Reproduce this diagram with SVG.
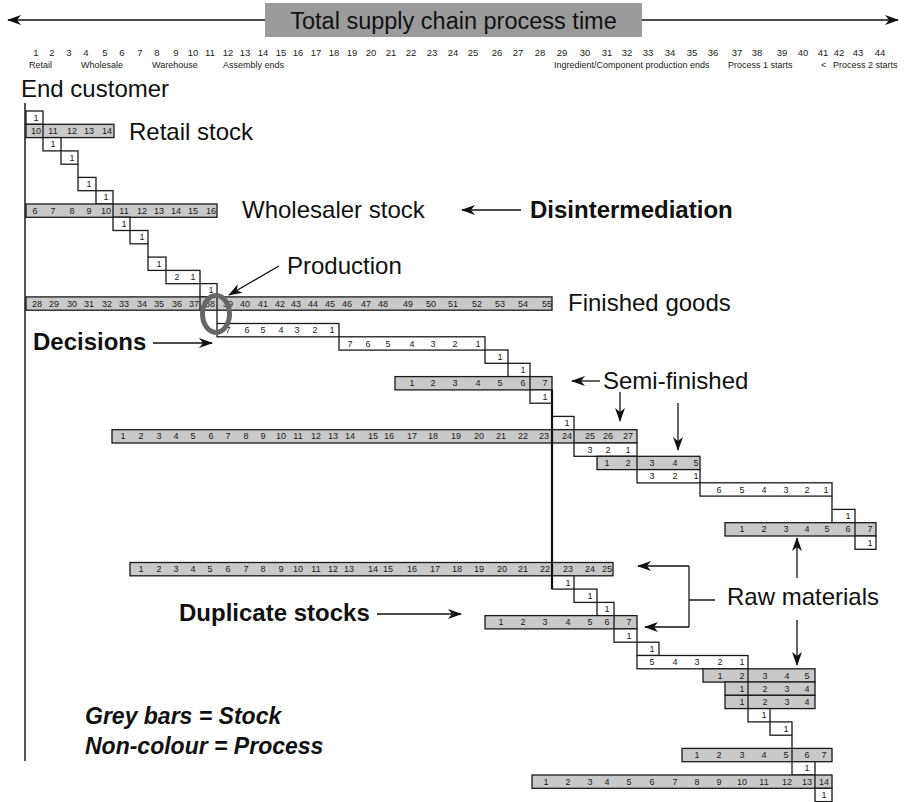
<svg xmlns="http://www.w3.org/2000/svg" width="905" height="802" viewBox="0 0 905 802">
<defs>
<marker id="ah" markerUnits="userSpaceOnUse" markerWidth="14" markerHeight="10" refX="13" refY="5" orient="auto">
<path d="M0,0 L14,5 L0,10 L4,5 z" fill="#111"/>
</marker>
<style>
.p{fill:#fff;stroke:#1a1a1a;stroke-width:1.3}
.s{fill:#c9c9c9;stroke:#1a1a1a;stroke-width:1.3}
.d{stroke:#1a1a1a;stroke-width:1.3}
.n{font-family:'Liberation Sans',Arial,sans-serif;font-size:9px;text-anchor:middle;fill:#1a1a1a}
.sc{font-family:'Liberation Sans',Arial,sans-serif;font-size:9.5px;text-anchor:middle;fill:#222}
.sl{font-family:'Liberation Sans',Arial,sans-serif;font-size:9px;fill:#222}
.L{font-family:'Liberation Sans',Arial,sans-serif;font-size:24px;fill:#111}
.B{font-family:'Liberation Sans',Arial,sans-serif;font-size:24px;font-weight:bold;fill:#111}
.BI{font-family:'Liberation Sans',Arial,sans-serif;font-size:23px;font-weight:bold;font-style:italic;fill:#111}
.a{stroke:#111;stroke-width:1.3;fill:none;marker-end:url(#ah)}
.c{stroke:#1a1a1a;stroke-width:1.3;fill:none}
</style>
</defs>
<rect width="905" height="802" fill="#fff"/>

<g id="title">
<rect x="265" y="3" width="377" height="34" fill="#9b9b9b"/>
<text class="L" x="453.5" y="28.5" text-anchor="middle" style="font-size:23.5px">Total supply chain process time</text>
</g>

<g id="scale">
<text class="sc" y="56"><tspan x="36">1</tspan><tspan x="52">2</tspan><tspan x="69">3</tspan><tspan x="86">4</tspan><tspan x="105">5</tspan><tspan x="122">6</tspan><tspan x="140">7</tspan><tspan x="157">8</tspan><tspan x="176">9</tspan><tspan x="193">10</tspan><tspan x="210">11</tspan><tspan x="228">12</tspan><tspan x="245">13</tspan><tspan x="263">14</tspan><tspan x="281">15</tspan><tspan x="298">16</tspan><tspan x="316">17</tspan><tspan x="334">18</tspan><tspan x="352">19</tspan><tspan x="371">20</tspan><tspan x="391">21</tspan><tspan x="411">22</tspan><tspan x="432">23</tspan><tspan x="453">24</tspan><tspan x="473">25</tspan><tspan x="497">26</tspan><tspan x="518">27</tspan><tspan x="540">28</tspan><tspan x="562">29</tspan><tspan x="585">30</tspan><tspan x="607">31</tspan><tspan x="627">32</tspan><tspan x="648">33</tspan><tspan x="670">34</tspan><tspan x="692">35</tspan><tspan x="713">36</tspan><tspan x="737">37</tspan><tspan x="757">38</tspan><tspan x="782">39</tspan><tspan x="803">40</tspan><tspan x="823">41</tspan><tspan x="839">42</tspan><tspan x="858">43</tspan><tspan x="880">44</tspan></text>
<text class="sl" y="68"><tspan x="29">Retail</tspan><tspan x="81">Wholesale</tspan><tspan x="152">Warehouse</tspan><tspan x="223">Assembly ends</tspan><tspan x="554">Ingredient/Component production ends</tspan><tspan x="728">Process 1 starts</tspan><tspan x="821">&lt;</tspan><tspan x="833">Process 2 starts</tspan></text>
</g>

<g id="end-customer">
<text class="L" x="21" y="97">End customer</text>
<line x1="25" y1="103" x2="25" y2="761" stroke="#1a1a1a" stroke-width="1.5"/>
</g>

<g id="r0" transform="translate(0,111)"><rect class="p" x="26" y="0" width="17" height="13.3"/><text class="n" x="36" y="9.8">1</text></g>
<g id="retail-stock" transform="translate(0,124.3)"><rect class="s" x="26" y="0" width="88" height="13.3"/><line class="d" x1="43" y1="0" x2="43" y2="13.3"/><text class="n" y="9.8"><tspan x="36">10</tspan><tspan x="53">11</tspan><tspan x="72">12</tspan><tspan x="89">13</tspan><tspan x="107">14</tspan></text></g>
<g id="r2" transform="translate(0,137.6)"><rect class="p" x="43" y="0" width="18" height="13.3"/><text class="n" x="53" y="9.8">1</text></g>
<g id="r3" transform="translate(0,150.9)"><rect class="p" x="61" y="0" width="17" height="13.3"/><text class="n" x="72" y="9.8">1</text></g>
<g id="r5" transform="translate(0,177.4)"><rect class="p" x="78" y="0" width="18" height="13.3"/><text class="n" x="89" y="9.8">1</text></g>
<g id="r6" transform="translate(0,190.7)"><rect class="p" x="96" y="0" width="17" height="13.3"/><text class="n" x="106" y="9.8">1</text></g>
<g id="wholesaler-stock" transform="translate(0,204)"><rect class="s" x="26" y="0" width="191" height="13.3"/><line class="d" x1="113" y1="0" x2="113" y2="13.3"/><text class="n" y="9.8"><tspan x="35">6</tspan><tspan x="53">7</tspan><tspan x="72">8</tspan><tspan x="89">9</tspan><tspan x="106">10</tspan><tspan x="124">11</tspan><tspan x="142">12</tspan><tspan x="159">13</tspan><tspan x="176">14</tspan><tspan x="193">15</tspan><tspan x="211">16</tspan></text></g>
<g id="r8" transform="translate(0,217.2)"><rect class="p" x="113" y="0" width="17" height="13.3"/><text class="n" x="124" y="9.8">1</text></g>
<g id="r9" transform="translate(0,230.5)"><rect class="p" x="130" y="0" width="18" height="13.3"/><text class="n" x="142" y="9.8">1</text></g>
<g id="r11" transform="translate(0,257.1)"><rect class="p" x="148" y="0" width="18" height="13.3"/><text class="n" x="159" y="9.8">1</text></g>
<g id="r12" transform="translate(0,270.4)"><rect class="p" x="166" y="0" width="34" height="13.3"/><text class="n" y="9.8"><tspan x="177">2</tspan><tspan x="193">1</tspan></text></g>
<g id="r13" transform="translate(0,283.6)"><rect class="p" x="200" y="0" width="17" height="13.3"/><text class="n" x="211" y="9.8">1</text></g>
<g id="finished-goods" transform="translate(0,296.9)"><rect class="s" x="26" y="0" width="526" height="13.3"/><line class="d" x1="200" y1="0" x2="200" y2="13.3"/><line class="d" x1="217" y1="0" x2="217" y2="13.3"/><text class="n" y="9.8"><tspan x="37">28</tspan><tspan x="54">29</tspan><tspan x="72">30</tspan><tspan x="89">31</tspan><tspan x="107">32</tspan><tspan x="124">33</tspan><tspan x="142">34</tspan><tspan x="159">35</tspan><tspan x="177">36</tspan><tspan x="194">37</tspan><tspan x="210">38</tspan><tspan x="228">39</tspan><tspan x="245">40</tspan><tspan x="263">41</tspan><tspan x="280">42</tspan><tspan x="296">43</tspan><tspan x="313">44</tspan><tspan x="330">45</tspan><tspan x="347">46</tspan><tspan x="366">47</tspan><tspan x="383">48</tspan><tspan x="408">49</tspan><tspan x="431">50</tspan><tspan x="453">51</tspan><tspan x="477">52</tspan><tspan x="500">53</tspan><tspan x="523">54</tspan><tspan x="547">55</tspan></text></g>
<g id="r16" transform="translate(0,323.5)"><rect class="p" x="217" y="0" width="122" height="13.3"/><text class="n" y="9.8"><tspan x="228">7</tspan><tspan x="247">6</tspan><tspan x="263">5</tspan><tspan x="281">4</tspan><tspan x="297">3</tspan><tspan x="315">2</tspan><tspan x="332">1</tspan></text></g>
<g id="r17" transform="translate(0,336.8)"><rect class="p" x="339" y="0" width="146" height="13.3"/><text class="n" y="9.8"><tspan x="350">7</tspan><tspan x="368">6</tspan><tspan x="388">5</tspan><tspan x="412">4</tspan><tspan x="433">3</tspan><tspan x="455">2</tspan><tspan x="478">1</tspan></text></g>
<g id="r18" transform="translate(0,350)"><rect class="p" x="485" y="0" width="23" height="13.3"/><text class="n" x="500" y="9.8">1</text></g>
<g id="r19" transform="translate(0,363.3)"><rect class="p" x="508" y="0" width="22" height="13.3"/><text class="n" x="523" y="9.8">1</text></g>
<g id="semi-finished-stock" transform="translate(0,376.6)"><rect class="s" x="395" y="0" width="157" height="13.3"/><line class="d" x1="530" y1="0" x2="530" y2="13.3"/><text class="n" y="9.8"><tspan x="412">1</tspan><tspan x="433">2</tspan><tspan x="455">3</tspan><tspan x="478">4</tspan><tspan x="500">5</tspan><tspan x="523">6</tspan><tspan x="545">7</tspan></text></g>
<g id="r21" transform="translate(0,389.9)"><rect class="p" x="530" y="0" width="22" height="13.3"/><text class="n" x="545" y="9.8">1</text></g>
<g id="r23" transform="translate(0,416.4)"><rect class="p" x="552" y="0" width="22" height="13.3"/><text class="n" x="567" y="9.8">1</text></g>
<g id="stock-24" transform="translate(0,429.7)"><rect class="s" x="112" y="0" width="525" height="13.3"/><line class="d" x1="552" y1="0" x2="552" y2="13.3"/><line class="d" x1="574" y1="0" x2="574" y2="13.3"/><text class="n" y="9.8"><tspan x="123">1</tspan><tspan x="141">2</tspan><tspan x="159">3</tspan><tspan x="176">4</tspan><tspan x="193">5</tspan><tspan x="211">6</tspan><tspan x="228">7</tspan><tspan x="246">8</tspan><tspan x="263">9</tspan><tspan x="281">10</tspan><tspan x="298">11</tspan><tspan x="316">12</tspan><tspan x="333">13</tspan><tspan x="350">14</tspan><tspan x="373">15</tspan><tspan x="389">16</tspan><tspan x="412">17</tspan><tspan x="433">18</tspan><tspan x="456">19</tspan><tspan x="479">20</tspan><tspan x="501">21</tspan><tspan x="523">22</tspan><tspan x="544">23</tspan><tspan x="567">24</tspan><tspan x="590">25</tspan><tspan x="608">26</tspan><tspan x="628">27</tspan></text></g>
<g id="r25" transform="translate(0,443)"><rect class="p" x="574" y="0" width="63" height="13.3"/><text class="n" y="9.8"><tspan x="590">3</tspan><tspan x="608">2</tspan><tspan x="628">1</tspan></text></g>
<g id="stock-26" transform="translate(0,456.3)"><rect class="s" x="597" y="0" width="103" height="13.3"/><line class="d" x1="637" y1="0" x2="637" y2="13.3"/><text class="n" y="9.8"><tspan x="607">1</tspan><tspan x="628">2</tspan><tspan x="652">3</tspan><tspan x="675">4</tspan><tspan x="696">5</tspan></text></g>
<g id="r27" transform="translate(0,469.6)"><rect class="p" x="637" y="0" width="63" height="13.3"/><text class="n" y="9.8"><tspan x="652">3</tspan><tspan x="675">2</tspan><tspan x="696">1</tspan></text></g>
<g id="r28" transform="translate(0,482.8)"><rect class="p" x="700" y="0" width="132" height="13.3"/><text class="n" y="9.8"><tspan x="719">6</tspan><tspan x="742">5</tspan><tspan x="764">4</tspan><tspan x="786">3</tspan><tspan x="807">2</tspan><tspan x="826">1</tspan></text></g>
<g id="r30" transform="translate(0,509.4)"><rect class="p" x="832" y="0" width="23" height="13.3"/><text class="n" x="848" y="9.8">1</text></g>
<g id="stock-31" transform="translate(0,522.7)"><rect class="s" x="725" y="0" width="151" height="13.3"/><line class="d" x1="855" y1="0" x2="855" y2="13.3"/><text class="n" y="9.8"><tspan x="742">1</tspan><tspan x="764">2</tspan><tspan x="786">3</tspan><tspan x="807">4</tspan><tspan x="827">5</tspan><tspan x="848">6</tspan><tspan x="870">7</tspan></text></g>
<g id="r32" transform="translate(0,536)"><rect class="p" x="855" y="0" width="21" height="13.3"/><text class="n" x="870" y="9.8">1</text></g>
<g id="stock-34" transform="translate(0,562.5)"><rect class="s" x="130" y="0" width="483" height="13.3"/><line class="d" x1="552" y1="0" x2="552" y2="13.3"/><text class="n" y="9.8"><tspan x="141">1</tspan><tspan x="159">2</tspan><tspan x="176">3</tspan><tspan x="193">4</tspan><tspan x="210">5</tspan><tspan x="228">6</tspan><tspan x="246">7</tspan><tspan x="263">8</tspan><tspan x="281">9</tspan><tspan x="298">10</tspan><tspan x="316">11</tspan><tspan x="333">12</tspan><tspan x="349">13</tspan><tspan x="373">14</tspan><tspan x="388">15</tspan><tspan x="412">16</tspan><tspan x="435">17</tspan><tspan x="457">18</tspan><tspan x="479">19</tspan><tspan x="502">20</tspan><tspan x="523">21</tspan><tspan x="545">22</tspan><tspan x="568">23</tspan><tspan x="590">24</tspan><tspan x="607">25</tspan></text></g>
<g id="r35" transform="translate(0,575.8)"><rect class="p" x="552" y="0" width="22" height="13.3"/><text class="n" x="568" y="9.8">1</text></g>
<g id="r36" transform="translate(0,589.1)"><rect class="p" x="574" y="0" width="23" height="13.3"/><text class="n" x="590" y="9.8">1</text></g>
<g id="r37" transform="translate(0,602.4)"><rect class="p" x="597" y="0" width="17" height="13.3"/><text class="n" x="607" y="9.8">1</text></g>
<g id="stock-38" transform="translate(0,615.6)"><rect class="s" x="485" y="0" width="152" height="13.3"/><line class="d" x1="614" y1="0" x2="614" y2="13.3"/><text class="n" y="9.8"><tspan x="501">1</tspan><tspan x="523">2</tspan><tspan x="545">3</tspan><tspan x="568">4</tspan><tspan x="590">5</tspan><tspan x="607">6</tspan><tspan x="629">7</tspan></text></g>
<g id="r39" transform="translate(0,628.9)"><rect class="p" x="614" y="0" width="23" height="13.3"/><text class="n" x="629" y="9.8">1</text></g>
<g id="r40" transform="translate(0,642.2)"><rect class="p" x="637" y="0" width="22" height="13.3"/><text class="n" x="652" y="9.8">1</text></g>
<g id="r41" transform="translate(0,655.5)"><rect class="p" x="637" y="0" width="111" height="13.3"/><text class="n" y="9.8"><tspan x="652">5</tspan><tspan x="675">4</tspan><tspan x="697">3</tspan><tspan x="720">2</tspan><tspan x="742">1</tspan></text></g>
<g id="stock-42" transform="translate(0,668.8)"><rect class="s" x="703" y="0" width="112" height="13.3"/><line class="d" x1="748" y1="0" x2="748" y2="13.3"/><text class="n" y="9.8"><tspan x="720">1</tspan><tspan x="742">2</tspan><tspan x="765">3</tspan><tspan x="787">4</tspan><tspan x="807">5</tspan></text></g>
<g id="stock-43" transform="translate(0,682)"><rect class="s" x="725" y="0" width="90" height="13.3"/><line class="d" x1="748" y1="0" x2="748" y2="13.3"/><text class="n" y="9.8"><tspan x="742">1</tspan><tspan x="765">2</tspan><tspan x="787">3</tspan><tspan x="807">4</tspan></text></g>
<g id="stock-44" transform="translate(0,695.3)"><rect class="s" x="725" y="0" width="90" height="13.3"/><line class="d" x1="748" y1="0" x2="748" y2="13.3"/><text class="n" y="9.8"><tspan x="742">1</tspan><tspan x="765">2</tspan><tspan x="787">3</tspan><tspan x="807">4</tspan></text></g>
<g id="r45" transform="translate(0,708.6)"><rect class="p" x="748" y="0" width="22" height="13.3"/><text class="n" x="764" y="9.8">1</text></g>
<g id="r46" transform="translate(0,721.9)"><rect class="p" x="770" y="0" width="22" height="13.3"/><text class="n" x="786" y="9.8">1</text></g>
<g id="stock-48" transform="translate(0,748.4)"><rect class="s" x="682" y="0" width="150" height="13.3"/><line class="d" x1="792" y1="0" x2="792" y2="13.3"/><text class="n" y="9.8"><tspan x="697">1</tspan><tspan x="719">2</tspan><tspan x="742">3</tspan><tspan x="764">4</tspan><tspan x="786">5</tspan><tspan x="807">6</tspan><tspan x="824">7</tspan></text></g>
<g id="r49" transform="translate(0,761.7)"><rect class="p" x="792" y="0" width="23" height="13.3"/><text class="n" x="807" y="9.8">1</text></g>
<g id="stock-50" transform="translate(0,775)"><rect class="s" x="532" y="0" width="300" height="13.3"/><line class="d" x1="815" y1="0" x2="815" y2="13.3"/><text class="n" y="9.8"><tspan x="546">1</tspan><tspan x="568">2</tspan><tspan x="590">3</tspan><tspan x="607">4</tspan><tspan x="629">5</tspan><tspan x="652">6</tspan><tspan x="675">7</tspan><tspan x="697">8</tspan><tspan x="719">9</tspan><tspan x="742">10</tspan><tspan x="764">11</tspan><tspan x="787">12</tspan><tspan x="807">13</tspan><tspan x="824">14</tspan></text></g>
<g id="r51" transform="translate(0,788.3)"><rect class="p" x="815" y="0" width="17" height="13.3"/><text class="n" x="824" y="9.8">1</text></g>

<g id="labels">
<text class="L" x="129" y="140">Retail stock</text>
<text class="L" x="242" y="218">Wholesaler stock</text>
<text class="B" x="530" y="218">Disintermediation</text>
<text class="L" x="287" y="274">Production</text>
<text class="L" x="568" y="311">Finished goods</text>
<text class="B" x="33" y="350">Decisions</text>
<text class="L" x="603" y="389">Semi-finished</text>
<text class="L" x="727" y="605">Raw materials</text>
<text class="B" x="179" y="621">Duplicate stocks</text>
<text class="BI" x="85" y="724">Grey bars = Stock</text>
<text class="BI" x="85" y="754">Non-colour = Process</text>
</g>

<g id="connectors">
<line class="a" x1="265" y1="20" x2="8" y2="20"/>
<line class="a" x1="642" y1="20" x2="898" y2="20"/>
<line class="c" x1="78" y1="164.2" x2="78" y2="177.4"/>
<line class="c" x1="148" y1="243.8" x2="148" y2="257.1"/>
<line class="c" x1="217" y1="310.2" x2="217" y2="323.5"/>
<line class="c" x1="832" y1="496.1" x2="832" y2="509.4"/>
<line class="c" x1="792" y1="735.2" x2="792" y2="748.4"/>
<line x1="552" y1="389.9" x2="552" y2="589" stroke="#111" stroke-width="2.2"/>
<line class="a" x1="521" y1="210" x2="462" y2="210"/>
<line class="a" x1="279" y1="266" x2="229" y2="295"/>
<line class="a" x1="153" y1="343" x2="212" y2="343"/>
<line class="a" x1="600" y1="381" x2="572" y2="381"/>
<line class="a" x1="620" y1="392" x2="620" y2="421"/>
<line class="a" x1="678" y1="403" x2="678" y2="450"/>
<line class="a" x1="797" y1="578" x2="797" y2="538"/>
<line class="a" x1="797" y1="620" x2="797" y2="665"/>
<path class="c" d="M715,600 H689 M689,566 V627"/>
<line class="a" x1="689" y1="566" x2="638" y2="566"/>
<line class="a" x1="689" y1="627" x2="645" y2="627"/>
<line class="a" x1="377" y1="614" x2="461" y2="614"/>
<ellipse cx="216" cy="314" rx="13.5" ry="18.5" fill="none" stroke="#666" stroke-width="5"/>
</g>
</svg>
